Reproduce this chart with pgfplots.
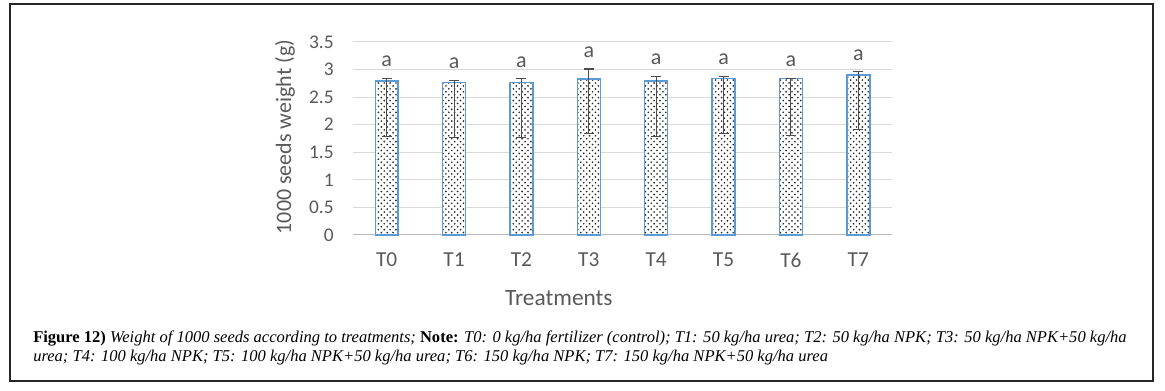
\documentclass[border=0pt]{standalone}
\usepackage{fontspec}
\setmainfont{Liberation Serif}
\newfontfamily\chartfont{Carlito}
\usepackage{pgfplots}
\pgfplotsset{compat=1.18}
\usetikzlibrary{patterns}
\definecolor{barblue}{RGB}{91,155,213}
\definecolor{txtgray}{RGB}{89,89,89}
\definecolor{gridgray}{RGB}{217,217,217}
\pgfdeclarepatternformonly{sparsedots}{\pgfqpoint{-1pt}{-1pt}}{\pgfqpoint{5pt}{5pt}}{\pgfqpoint{4.4pt}{4.4pt}}{%
  \pgfpathcircle{\pgfqpoint{0pt}{0pt}}{0.7pt}%
  \pgfpathcircle{\pgfqpoint{2.2pt}{2.2pt}}{0.7pt}%
  \pgfusepath{fill}}
\begin{document}
\begin{tikzpicture}[x=0.75pt,y=0.75pt]
\path (0,0) rectangle (1165,391);
\draw[line width=1pt, color=black!85] (10,10) rectangle (1153,387);
\begin{axis}[
  at={(264.75pt,117pt)}, anchor=south west,
  scale only axis, width=404.25pt, height=144.75pt,
  ymin=0, ymax=3.5, ytick={0,0.5,...,3.5},
  xmin=-0.5, xmax=7.5, xtick={0,...,7},
  xticklabels={T0,T1,T2,T3,T4,T5,T6,T7},
  axis x line*=bottom, axis y line*=left,
  y axis line style={draw=none},
  x axis line style={draw=gray!55, line width=0.75pt},
  major tick length=0pt,
  ymajorgrids, grid style={gridgray, line width=0.75pt},
  /pgf/number format/assume math mode=true,
  yticklabel style={font=\chartfont\fontsize{14.5}{14.5}\selectfont, text=txtgray, xshift=-11pt},
  xticklabel style={font=\chartfont\fontsize{16}{16}\selectfont, text=txtgray, yshift=-10pt},
  ylabel={1000 seeds weight (g)},
  ylabel style={font=\chartfont\fontsize{16.5}{16.5}\selectfont, text=txtgray, at={(axis description cs:-0.126,0.508)}, anchor=center, rotate=0},
  xlabel={Treatments},
  xlabel style={font=\chartfont\fontsize{17.5}{17.5}\selectfont, text=txtgray, at={(axis description cs:0.382,-0.326)}, anchor=center},
  clip=false,
]
\addplot[ybar, bar width=0.34, fill=white, draw=none, forget plot] coordinates {
 (0,2.79) (1,2.77) (2,2.77) (3,2.83) (4,2.79) (5,2.84) (6,2.84) (7,2.90)};
\addplot[ybar, bar width=0.34, draw=barblue, line width=1.1pt, pattern=sparsedots, pattern color=black!85,
  error bars/.cd, y dir=both, y explicit,
  error bar style={draw=black!70, line width=0.8pt},
  error mark options={rotate=90, mark size=3.75pt, line width=0.8pt, draw=black!70}]
 coordinates {
 (0,2.79) += (0,0.05) -= (0,1.01)
 (1,2.77) += (0,0.03) -= (0,1.00)
 (2,2.77) += (0,0.06) -= (0,1.00)
 (3,2.83) += (0,0.18) -= (0,0.99)
 (4,2.79) += (0,0.08) -= (0,1.01)
 (5,2.84) += (0,0.03) -= (0,1.00)
 (6,2.84) += (0,0.00) -= (0,1.03)
 (7,2.90) += (0,0.06) -= (0,0.99)
 };
\foreach \i/\t in {0/2.84,1/2.80,2/2.83,3/3.01,4/2.87,5/2.87,6/2.84,7/2.96}{
  \edef\tmp{\noexpand\node[font=\noexpand\chartfont\noexpand\fontsize{16.5}{16.5}\noexpand\selectfont, text=txtgray, yshift=12.75pt] at (axis cs:\i,\t) {a};}
  \tmp
}
\end{axis}
\node[anchor=base west, font=\fontsize{12.4}{13}\selectfont, inner sep=0pt] at (33,48) {\textbf{Figure 12)} \textit{Weight of 1000 seeds according to treatments;} \textbf{Note:} \textit{T0: 0 kg/ha fertilizer (control); T1: 50 kg/ha urea; T2: 50 kg/ha NPK; T3: 50 kg/ha NPK+50 kg/ha}};
\node[anchor=base west, font=\fontsize{12.4}{13}\selectfont, inner sep=0pt] at (33,29) {\textit{urea; T4: 100 kg/ha NPK; T5: 100 kg/ha NPK+50 kg/ha urea; T6: 150 kg/ha NPK; T7: 150 kg/ha NPK+50 kg/ha urea}};
\end{tikzpicture}
\end{document}
